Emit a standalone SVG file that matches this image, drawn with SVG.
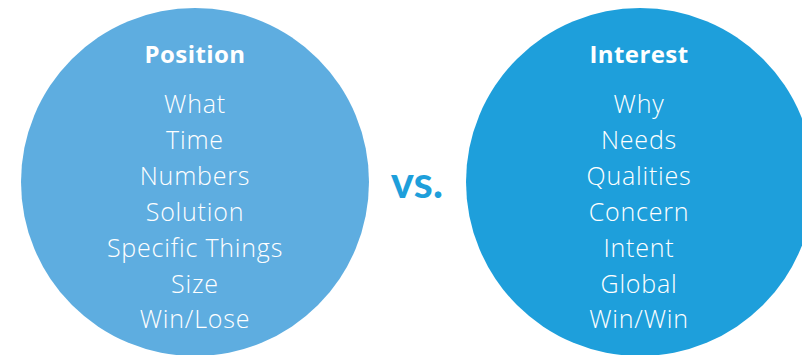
<svg xmlns="http://www.w3.org/2000/svg" width="802" height="355" viewBox="0 0 802 355">
  <style>
    .title { font-family: "Open Sans", Lato, "Liberation Sans", sans-serif; font-weight: 700; font-size: 24px; letter-spacing: 0.4px; fill: #ffffff; text-anchor: middle; }
    .item { font-family: "Open Sans", Lato, "Liberation Sans", sans-serif; font-weight: 300; font-size: 25px; letter-spacing: 0.8px; fill: #ffffff; text-anchor: middle; }
    .vs { font-family: Lato, "Open Sans", "Liberation Sans", sans-serif; font-weight: 700; font-size: 44px; fill: #1e9fdb; text-anchor: middle; }
  </style>
  <rect width="802" height="355" fill="#ffffff"/>

  <g id="position">
    <circle cx="195" cy="182" r="174" fill="#5eade0"/>
    <text class="title" x="195" y="63">Position</text>
    <text class="item" x="195" y="113">What</text>
    <text class="item" x="195" y="149">Time</text>
    <text class="item" x="195" y="185">Numbers</text>
    <text class="item" x="195" y="221">Solution</text>
    <text class="item" x="195" y="257">Specific Things</text>
    <text class="item" x="195" y="293">Size</text>
    <text class="item" x="195" y="328">Win/Lose</text>
  </g>

  <g id="versus">
    <text class="vs" x="417" y="198">vs.</text>
  </g>

  <g id="interest">
    <circle cx="640" cy="182" r="174" fill="#1e9fdb"/>
    <text class="title" x="639" y="63">Interest</text>
    <text class="item" x="639" y="113">Why</text>
    <text class="item" x="639" y="149">Needs</text>
    <text class="item" x="639" y="185">Qualities</text>
    <text class="item" x="639" y="221">Concern</text>
    <text class="item" x="639" y="257">Intent</text>
    <text class="item" x="639" y="293">Global</text>
    <text class="item" x="639" y="328">Win/Win</text>
  </g>

  <g id="connectors"></g>
</svg>
